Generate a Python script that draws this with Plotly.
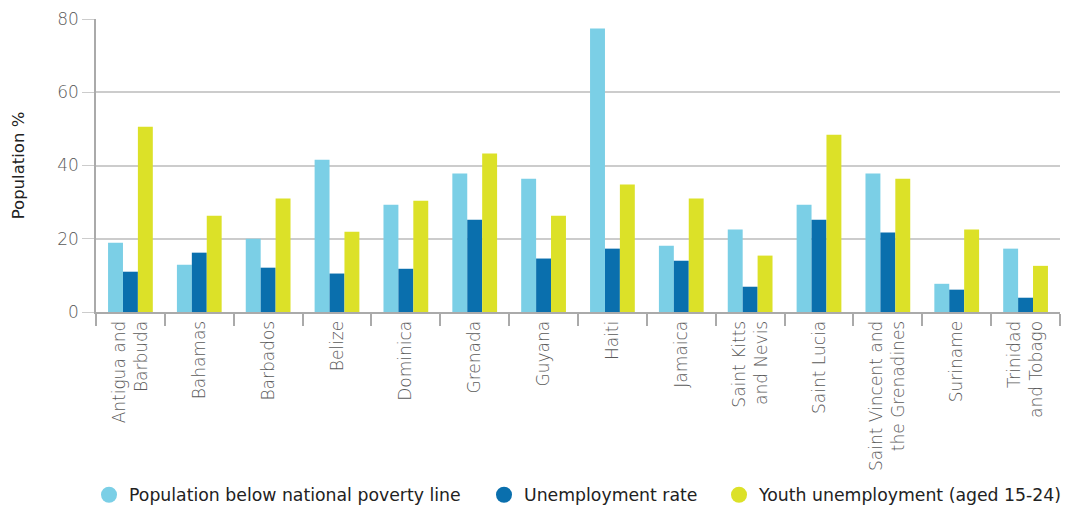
import plotly.graph_objects as go

COUNTRIES = [
    "Antigua and<br>Barbuda",
    "Bahamas",
    "Barbados",
    "Belize",
    "Dominica",
    "Grenada",
    "Guyana",
    "Haiti",
    "Jamaica",
    "Saint Kitts<br>and Nevis",
    "Saint Lucia",
    "Saint Vincent and<br>the Grenadines",
    "Suriname",
    "Trinidad<br>and Tobago",
]

POVERTY = [18.9, 12.9, 20.0, 41.6, 29.3, 37.8, 36.4, 77.4, 18.1, 22.5, 29.3, 37.8, 7.7, 17.3]
UNEMPLOYMENT = [11.0, 16.2, 12.1, 10.5, 11.8, 25.2, 14.6, 17.3, 14.0, 6.9, 25.2, 21.7, 6.1, 3.9]
YOUTH = [50.6, 26.3, 31.0, 21.9, 30.4, 43.3, 26.3, 34.8, 31.0, 15.4, 48.4, 36.4, 22.5, 12.6]

SERIES = [
    ("Population below national poverty line", POVERTY, "#7bcfe6", "legend"),
    ("Unemployment rate", UNEMPLOYMENT, "#0a6fad", "legend2"),
    ("Youth unemployment (aged 15-24)", YOUTH, "#dce128", "legend3"),
]

FONT = "DejaVu Sans"

traces = []
for name, values, colour, leg in SERIES:
    traces.append(
        go.Bar(
            name=name,
            x=COUNTRIES,
            y=values,
            marker=dict(color=colour, line=dict(width=0)),
            showlegend=False,
        )
    )
    # dummy trace so the legend shows round markers
    traces.append(
        go.Scatter(
            name=name,
            x=[None],
            y=[None],
            mode="markers",
            marker=dict(color=colour, size=19, symbol="circle"),
            showlegend=True,
            legend=leg,
        )
    )


def legend_at(xpos):
    return dict(
        orientation="h",
        x=xpos,
        xref="container",
        xanchor="left",
        y=13 / 508,
        yref="container",
        yanchor="middle",
        font=dict(size=17.3, color="#222222"),
        itemwidth=30,
    )


layout = go.Layout(
    width=1073,
    height=508,
    plot_bgcolor="white",
    paper_bgcolor="white",
    barmode="group",
    bargap=0.35,
    bargroupgap=0,
    margin=dict(l=96, r=13, t=19, b=196),
    font=dict(family=FONT, color="#555555"),
    xaxis=dict(
        automargin=False,
        tickangle=-90,
        tickfont=dict(size=17, color="#5a5a5a", weight=300),
        showgrid=False,
        showline=True,
        linecolor="#aaaaaa",
        linewidth=2,
        ticks="outside",
        tickson="boundaries",
        ticklen=12,
        tickcolor="#aaaaaa",
        tickwidth=1.5,
    ),
    yaxis=dict(
        automargin=False,
        title=dict(text="Population %", font=dict(size=16.5, color="#222222"), standoff=28),
        range=[0, 80],
        dtick=20,
        tickfont=dict(size=17, color="#5a5a5a", weight=300),
        showgrid=True,
        gridcolor="#cccccc",
        gridwidth=1.5,
        showline=True,
        linecolor="#aaaaaa",
        linewidth=1.5,
        ticks="outside",
        ticklen=12,
        tickcolor="#cccccc",
        zeroline=False,
    ),
    legend=legend_at(89 / 1073),
    legend2=legend_at(484 / 1073),
    legend3=legend_at(719 / 1073),
)

fig = go.Figure(data=traces, layout=layout)
# drop the default body margin so the figure sits at the window's corner
fig.write_html(
    "out.html",
    config={"displayModeBar": False},
    post_script="document.body.style.margin='0';",
)
